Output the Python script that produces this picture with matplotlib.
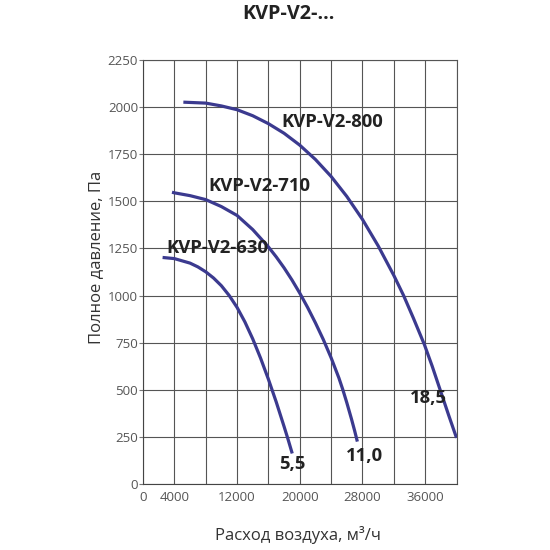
import numpy as np
import matplotlib
matplotlib.use("Agg")
import matplotlib.pyplot as plt

plt.rcParams['font.family'] = ['Open Sans', 'DejaVu Sans']

# fan curves: air flow (m3/h) and total pressure (Pa)
flow_630 = [2500, 4000, 6000, 7000, 8000, 9000, 10000, 11000, 12000, 13000, 14000, 15000, 16000, 17000, 18000,
            18500, 19040]
pres_630 = [1202, 1196, 1172, 1152, 1126, 1093, 1052, 1000, 937, 860, 770, 668, 556, 435, 305,
            238, 162]

flow_710 = [3700, 4000, 6000, 8000, 10000, 12000, 14000, 16000, 17000, 18000, 19000, 20000, 21000, 22000, 23000,
            24000, 25000, 25500, 26000, 26600, 27000, 27350]
pres_710 = [1548, 1545, 1530, 1509, 1472, 1425, 1350, 1258, 1205, 1147, 1083, 1013, 937, 855, 767,
            670, 562, 500, 432, 345, 283, 225]

flow_800 = [5150, 8000, 10000, 12000, 14000, 16000, 18000, 20000, 22000, 24000, 26000, 28000, 30000, 32000, 33250,
            34500, 35900, 36900, 37950, 39000, 40000]
pres_800 = [2026, 2021, 2006, 1986, 1954, 1912, 1861, 1798, 1722, 1632, 1526, 1404, 1264, 1107, 1000,
            880, 740, 625, 495, 365, 245]

curve_labels = ["KVP-V2-630", "KVP-V2-710", "KVP-V2-800"]
label_pos = [(3000, 1252), (8350, 1580), (17700, 1923)]
power_labels = ["5,5", "11,0", "18,5"]
power_pos = [(17400, 106), (25950, 148), (34100, 455)]

x_ticks = [0, 4000, 12000, 20000, 28000, 36000]
y_ticks = [0, 250, 500, 750, 1000, 1250, 1500, 1750, 2000, 2250]

line_col = "#3b3a8f"

fig = plt.figure(figsize=(5.5, 5.5), dpi=100)
ax = fig.add_axes([0.26, 0.12, 0.57, 0.771])

for fx, py in [(flow_630, pres_630), (flow_710, pres_710), (flow_800, pres_800)]:
    ax.plot(fx, py, color=line_col, lw=2.3, solid_capstyle='butt', solid_joinstyle='round', zorder=3)

for txt, (x, y) in zip(curve_labels, label_pos):
    ax.text(x, y, txt, fontsize=13.3, fontweight='bold', color='#222222', va='center', ha='left', zorder=4)
for txt, (x, y) in zip(power_labels, power_pos):
    ax.text(x, y, txt, fontsize=13.3, fontweight='bold', color='#222222', va='center', ha='left', zorder=4)

ax.set_xlim(0, 40000)
ax.set_ylim(0, 2250)
ax.set_xticks(np.arange(0, 40001, 4000), minor=True)
ax.set_xticks(x_ticks)
ax.set_yticks(y_ticks)
ax.grid(True, which='both', axis='x', color='#555555', lw=0.8)
ax.grid(True, axis='y', color='#555555', lw=0.8)
ax.tick_params(which='minor', length=0)
ax.tick_params(axis='x', length=0, labelsize=9.5, labelcolor='#555555', pad=5)
ax.tick_params(axis='y', length=3, width=0.8, color='#777777', labelsize=9.5, labelcolor='#555555', pad=0.5)
for s in ax.spines.values():
    s.set_color('#555555')
    s.set_linewidth(0.8)
ax.spines['left'].set_color('#444444')
ax.spines['bottom'].set_color('#444444')

fig.text(0.1745, 0.532, "Полное давление, Па", fontsize=12, color='#333333', rotation=90, ha='center', va='center')
fig.text(0.542, 0.027, "Расход воздуха, м³/ч", fontsize=12, color='#333333', ha='center', va='center')
fig.text(0.525, 0.975, "KVP-V2-...", fontsize=14.3, fontweight='bold', color='#222222', ha='center', va='center')

fig.savefig("out.png", dpi=100)
